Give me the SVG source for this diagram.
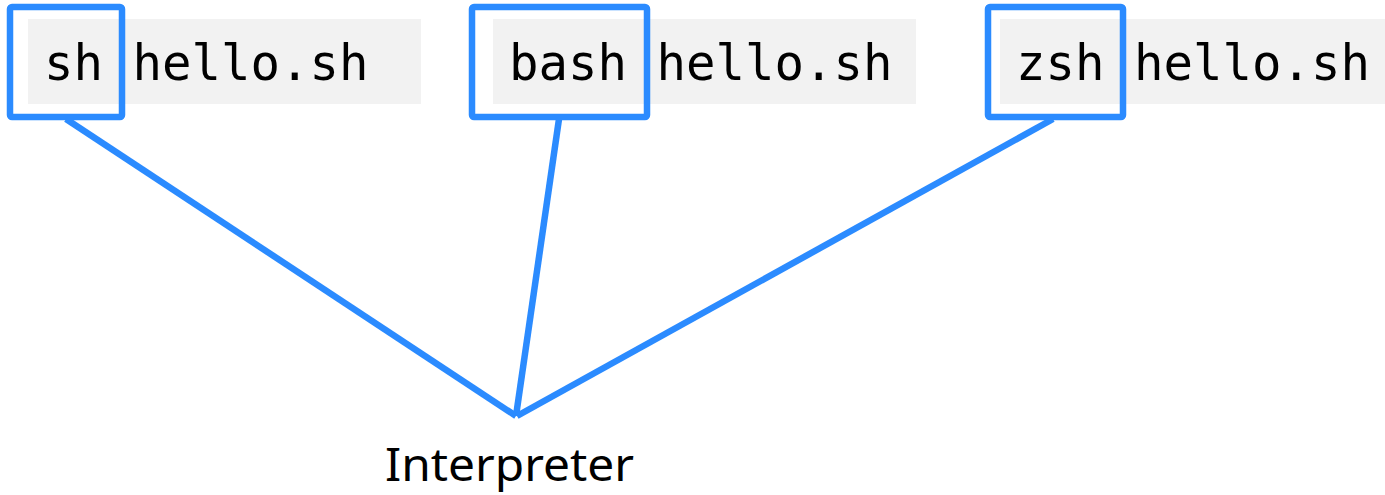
<svg xmlns="http://www.w3.org/2000/svg" width="1385" height="495" viewBox="0 0 1385 495">
<style>
.bg{fill:#f2f2f2}
.code{font-family:"DejaVu Sans Mono","Liberation Mono",monospace;font-size:49px;fill:#000}
.box{fill:none;stroke:#2b8bff;stroke-width:6.5}
.edge{fill:none;stroke:#2b8bff;stroke-width:6.5}
.lbl{font-family:"Noto Sans","Liberation Sans",sans-serif;font-size:45px;fill:#000}
</style>
<rect width="1385" height="495" fill="#fff"/>
<g id="connectors">
<line class="edge" x1="66" y1="119" x2="516" y2="416"/>
<line class="edge" x1="559" y1="119" x2="516" y2="416"/>
<line class="edge" x1="1053" y1="119" x2="517" y2="416"/>
</g>
<g id="cmd-sh">
<rect class="bg" x="28" y="19" width="393" height="85"/>
<text class="code" x="44" y="80" xml:space="preserve">sh hello.sh</text>
<rect class="box" x="10" y="7" width="112" height="110" rx="2"/>
</g>
<g id="cmd-bash">
<rect class="bg" x="493" y="19" width="423" height="85"/>
<text class="code" x="509" y="80" xml:space="preserve">bash hello.sh</text>
<rect class="box" x="472" y="7" width="175" height="110" rx="2"/>
</g>
<g id="cmd-zsh">
<rect class="bg" x="1000" y="19" width="385" height="85"/>
<text class="code" x="1016" y="80" xml:space="preserve">zsh hello.sh</text>
<rect class="box" x="988" y="7" width="135" height="110" rx="2"/>
</g>
<g id="interpreter">
<text class="lbl" x="385" y="481" textLength="249" lengthAdjust="spacingAndGlyphs">Interpreter</text>
</g>
</svg>
